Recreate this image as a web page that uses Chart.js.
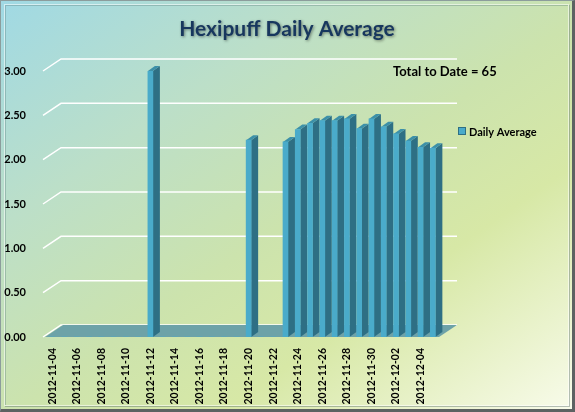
<!DOCTYPE html>
<html>
<head>
<meta charset="utf-8">
<script src="https://cdn.jsdelivr.net/npm/chart.js@4.4.0/dist/chart.umd.min.js"></script>
<style>
  html, body { margin: 0; padding: 0; background: #fff; }
  #frame {
    position: relative; width: 575px; height: 412px; box-sizing: border-box;
    border: 1px solid #8c9c9c; border-right: 3px solid #5d6262; border-bottom: 3px solid #5d6262;
    background: linear-gradient(145deg, #a0d9e4 0%, #bcdfc8 28%, #cce3ad 52%, #d7e8a6 70%, #f8fbea 100%);
  }
  #bevel {
    position: absolute; left: 3px; top: 3px; right: 3px; bottom: 3px;
    border: 1px solid rgba(255,255,255,0.55);
    box-shadow: inset 1px 1px 0 rgba(90,120,120,0.35), 1px 1px 0 rgba(80,100,100,0.4);
  }
  canvas { position: absolute; left: -1px; top: -1px; }
</style>
</head>
<body>
<div id="frame">
  <div id="bevel"></div>
  <canvas id="hexChart" width="575" height="412"></canvas>
</div>
<script>
// dados
const days = [
  '2012-11-04', '2012-11-05', '2012-11-06', '2012-11-07', '2012-11-08', '2012-11-09',
  '2012-11-10', '2012-11-11', '2012-11-12', '2012-11-13', '2012-11-14', '2012-11-15',
  '2012-11-16', '2012-11-17', '2012-11-18', '2012-11-19', '2012-11-20', '2012-11-21',
  '2012-11-22', '2012-11-23', '2012-11-24', '2012-11-25', '2012-11-26', '2012-11-27',
  '2012-11-28', '2012-11-29', '2012-11-30', '2012-12-01', '2012-12-02', '2012-12-03',
  '2012-12-04', '2012-12-05'
];
const dailyAverage = [
  0, 0, 0, 0, 0, 0,
  0, 0, 3.00, 0, 0, 0,
  0, 0, 0, 0, 2.22, 0,
  0, 2.20, 2.34, 2.41, 2.44, 2.44,
  2.46, 2.35, 2.46, 2.37, 2.29, 2.21,
  2.14, 2.13
];
const yMax = 3;
const yStep = 0.5;

const chartTitle = 'Hexipuff Daily Average';
const totalLabel = 'Total to Date = 65';
const seriesName = 'Daily Average';

// profundidade "3D"
const WALL_DX = 18, WALL_DY = -12;
const BAR_DX = 7, BAR_DY = -5;

const FRONT = '#4aabca';
const SIDE = '#2e6f84';
const TOP = '#3c90a8';

const depthPlugin = {
  id: 'depth',
  beforeDatasetsDraw(chart) {
    const { ctx, chartArea: a, scales: { x, y } } = chart;
    ctx.save();

    // linhas de grade na parede do fundo
    ctx.strokeStyle = '#ffffff';
    ctx.lineWidth = 1.5;
    y.ticks.forEach(t => {
      const py = y.getPixelForValue(t.value);
      ctx.beginPath();
      ctx.moveTo(a.left - 3, py);
      ctx.lineTo(a.left - 3 + WALL_DX, py + WALL_DY);
      ctx.lineTo(a.right + WALL_DX, py + WALL_DY);
      ctx.stroke();
    });

    // piso
    const base = y.getPixelForValue(0);
    ctx.fillStyle = '#6da2a8';
    ctx.beginPath();
    ctx.moveTo(a.left - 1, base);
    ctx.lineTo(a.left - 1 + WALL_DX, base + WALL_DY);
    ctx.lineTo(a.right + WALL_DX, base + WALL_DY);
    ctx.lineTo(a.right, base);
    ctx.closePath();
    ctx.fill();

    // laterais e topos das barras
    const meta = chart.getDatasetMeta(0);
    meta.data.forEach((bar, i) => {
      if (!dailyAverage[i]) return;
      const p = bar.getProps(['x', 'y', 'base', 'width'], true);
      const l = p.x - p.width / 2, r = p.x + p.width / 2;
      ctx.fillStyle = SIDE;
      ctx.beginPath();
      ctx.moveTo(r, p.y);
      ctx.lineTo(r + BAR_DX, p.y + BAR_DY);
      ctx.lineTo(r + BAR_DX, p.base + BAR_DY);
      ctx.lineTo(r, p.base);
      ctx.closePath();
      ctx.fill();
      ctx.fillStyle = TOP;
      ctx.beginPath();
      ctx.moveTo(l, p.y);
      ctx.lineTo(l + BAR_DX, p.y + BAR_DY);
      ctx.lineTo(r + BAR_DX, p.y + BAR_DY);
      ctx.lineTo(r, p.y);
      ctx.closePath();
      ctx.fill();
    });
    ctx.restore();
  },
  afterDraw(chart) {
    const ctx = chart.ctx;
    ctx.save();

    // título com sombra
    ctx.textAlign = 'center';
    ctx.textBaseline = 'middle';
    ctx.font = 'bold 21px Lato';
    ctx.shadowColor = 'rgba(0,0,0,0.45)';
    ctx.shadowBlur = 3;
    ctx.shadowOffsetX = 1;
    ctx.shadowOffsetY = 1;
    ctx.fillStyle = '#17375e';
    ctx.fillText(chartTitle, 287, 29);
    ctx.shadowColor = 'transparent';

    ctx.fillStyle = '#000';
    ctx.textAlign = 'left';
    ctx.font = 'bold 13px Lato';
    ctx.fillText(totalLabel, 393, 72);

    // legenda
    ctx.fillStyle = FRONT;
    ctx.fillRect(458, 127, 8, 8);
    ctx.strokeStyle = '#2e6f84';
    ctx.lineWidth = 1;
    ctx.strokeRect(458.5, 127.5, 7, 7);
    ctx.fillStyle = '#000';
    ctx.font = 'bold 11px Lato';
    ctx.fillText(seriesName, 469, 132);
    ctx.restore();
  }
};

const chart = new Chart(document.getElementById('hexChart'), {
  type: 'bar',
  data: {
    labels: days,
    datasets: [{
      label: seriesName,
      data: dailyAverage,
      backgroundColor: FRONT,
      barThickness: 5
    }]
  },
  options: {
    responsive: false,
    animation: false,
    layout: { padding: { left: 0, right: 136, top: 71, bottom: 0 } },
    plugins: {
      legend: { display: false },
      tooltip: { enabled: false },
      title: { display: false }
    },
    scales: {
      x: {
        grid: { display: false },
        border: { display: false },
        ticks: {
          autoSkip: false,
          maxRotation: 90,
          minRotation: 90,
          padding: 3,
          color: '#000',
          font: { family: 'Lato', size: 10.5, weight: 'bold' },
          callback: (v, i) => (i % 2 === 0 ? days[i] : '')
        },
        afterFit: s => { s.height = 75; }
      },
      y: {
        min: 0,
        max: yMax,
        grid: { display: false },
        border: { display: false },
        ticks: {
          stepSize: yStep,
          padding: 12,
          color: '#000',
          font: { family: 'Lato', size: 11, weight: 'bold' },
          callback: v => Number(v).toFixed(2)
        },
        afterFit: s => { s.width = 46; }
      }
    }
  },
  plugins: [depthPlugin]
});
</script>
</body>
</html>
